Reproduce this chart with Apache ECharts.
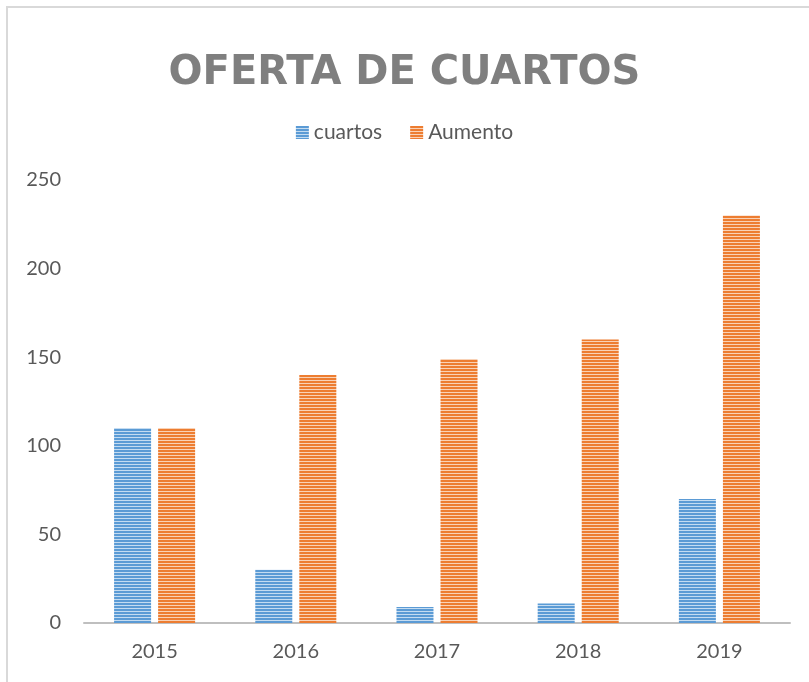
<!DOCTYPE html>
<html>
<head>
<meta charset="utf-8">
<script src="https://cdn.jsdelivr.net/npm/echarts@6/dist/echarts.min.js"></script>
<style>
  html, body { margin: 0; padding: 0; background: #fff; }
  #chart { width: 809px; height: 682px; }
</style>
</head>
<body>
<div id="chart"></div>
<script>
const years = ["2015", "2016", "2017", "2018", "2019"];
const cuartos = [110, 30, 9, 11, 70];
const aumento = [110, 140, 149, 160, 230];

// horizontal stripes like the office "narrow horizontal" fill
function stripes(base, light) {
    const c = document.createElement("canvas");
    c.width = 4;
    c.height = 3;
    const ctx = c.getContext("2d");
    ctx.fillStyle = base;
    ctx.fillRect(0, 0, 4, 3);
    ctx.fillStyle = light;
    ctx.fillRect(0, 2, 4, 1);
    return { image: c, repeat: "repeat" };
}

const blue = stripes("#5b9bd5", "#c5dcf1");
const orange = stripes("#ed7d31", "#f9d2b6");

const font = "Lato, 'Open Sans', sans-serif";
const chart = echarts.init(document.getElementById("chart"));

const option = {
    animation: false,
    title: {
        text: "OFERTA DE CUARTOS",
        left: "center",
        top: 49,
        textStyle: {
            color: "#7f7f7f",
            fontSize: 40,
            fontWeight: "bold",
            fontFamily: "'DejaVu Sans', sans-serif"
        }
    },
    legend: {
        top: 117,
        left: "center",
        icon: "rect",
        itemWidth: 13,
        itemHeight: 13,
        itemGap: 28,
        textStyle: { color: "#595959", fontSize: 21, fontFamily: font },
        data: ["cuartos", "Aumento"]
    },
    grid: {
        left: 84,
        right: 19,
        top: 180,
        bottom: 59,
        containLabel: false
    },
    xAxis: {
        type: "category",
        data: years,
        axisLine: { lineStyle: { color: "#bfbfbf", width: 2 } },
        axisTick: { show: false },
        axisLabel: { color: "#595959", fontSize: 20, fontFamily: font, margin: 19 }
    },
    yAxis: {
        type: "value",
        min: 0,
        max: 250,
        interval: 50,
        splitLine: { show: false },
        axisLine: { show: false },
        axisTick: { show: false },
        axisLabel: { color: "#595959", fontSize: 20, fontFamily: font, margin: 23 }
    },
    series: [
        {
            name: "cuartos",
            type: "bar",
            data: cuartos,
            barWidth: 37,
            barGap: "19%",
            itemStyle: { color: blue }
        },
        {
            name: "Aumento",
            type: "bar",
            data: aumento,
            barWidth: 37,
            itemStyle: { color: orange }
        }
    ],
    graphic: [{
        type: "rect",
        shape: { x: 7, y: 7, width: 820, height: 700 },
        style: { fill: "none", stroke: "#d9d9d9", lineWidth: 2 },
        silent: true
    }]
};
chart.setOption(option);
</script>
</body>
</html>
